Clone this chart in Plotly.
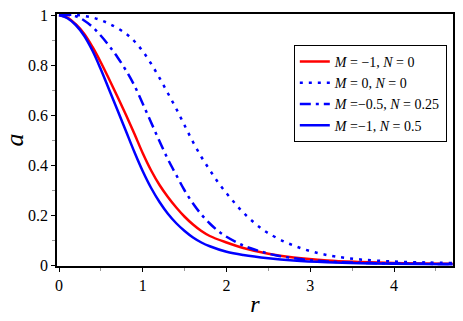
import plotly.graph_objects as go

# M=-1, N=0 (red solid)
r_red = [0, 0.1, 0.2, 0.3, 0.4, 0.5, 0.6, 0.7, 0.8, 0.9, 1.0, 1.1, 1.2, 1.3, 1.4,
         1.5, 1.6, 1.7, 1.8, 2.0, 2.2, 2.5, 2.8, 3.2, 3.6, 4.0, 4.7]
a_red = [1.0, 0.99, 0.963, 0.925, 0.872, 0.81, 0.742, 0.672, 0.6, 0.525, 0.447,
         0.378, 0.32, 0.272, 0.23, 0.193, 0.162, 0.136, 0.116, 0.09, 0.068, 0.045,
         0.03, 0.018, 0.012, 0.008, 0.005]

# M=0, N=0 (blue dotted)
r_dot = [0, 0.2, 0.4, 0.6, 0.8, 0.9, 1.0, 1.1, 1.2, 1.3, 1.4, 1.5, 1.6, 1.7, 1.8,
         1.9, 2.0, 2.1, 2.2, 2.3, 2.4, 2.5, 2.7, 2.9, 3.1, 3.3, 3.6, 4.0, 4.4, 4.7]
a_dot = [1.0, 1.0, 0.99, 0.965, 0.925, 0.895, 0.855, 0.805, 0.748, 0.687, 0.625,
         0.558, 0.492, 0.432, 0.38, 0.33, 0.287, 0.247, 0.21, 0.178, 0.15, 0.127,
         0.092, 0.066, 0.047, 0.034, 0.022, 0.014, 0.01, 0.008]

# M=-0.5, N=0.25 (blue dash-dot)
r_dd = [0, 0.1, 0.2, 0.3, 0.4, 0.5, 0.6, 0.7, 0.8, 0.9, 1.0, 1.1, 1.2, 1.3, 1.4,
        1.5, 1.6, 1.7, 1.8, 1.9, 2.0, 2.2, 2.4, 2.6, 2.9, 3.2, 3.6, 4.0, 4.7]
a_dd = [1.0, 1.0, 0.995, 0.978, 0.952, 0.917, 0.876, 0.83, 0.778, 0.718, 0.645,
        0.57, 0.495, 0.423, 0.36, 0.298, 0.246, 0.202, 0.166, 0.136, 0.113, 0.078,
        0.055, 0.038, 0.023, 0.014, 0.009, 0.006, 0.004]

# M=-1, N=0.5 (blue solid)
r_blue = [0, 0.1, 0.2, 0.3, 0.4, 0.5, 0.6, 0.7, 0.8, 0.9, 1.0, 1.1, 1.2, 1.3, 1.4,
          1.5, 1.6, 1.7, 1.8, 2.0, 2.2, 2.5, 2.8, 3.2, 3.6, 4.0, 4.7]
a_blue = [1.0, 0.987, 0.96, 0.917, 0.857, 0.782, 0.7, 0.618, 0.535, 0.452, 0.375,
          0.308, 0.252, 0.205, 0.167, 0.136, 0.11, 0.09, 0.075, 0.053, 0.04, 0.027,
          0.018, 0.011, 0.007, 0.005, 0.003]

x_ticks = [0, 1, 2, 3, 4]
y_ticks = [0, 0.2, 0.4, 0.6, 0.8, 1]
y_tick_text = ["0", "0.2", "0.4", "0.6", "0.8", "1"]

SERIF = "Liberation Serif"
tick_font = dict(family=SERIF, size=16, color="black")

fig = go.Figure()
series = [
    (r_red, a_red, "<i>M</i> = −1, <i>N</i> = 0", "#ff0000", "solid"),
    (r_dot, a_dot, "<i>M</i> = 0, <i>N</i> = 0", "#0000ff", "3px,6px"),
    (r_dd, a_dd, "<i>M</i> =−0.5, <i>N</i> = 0.25", "#0000ff", "11px,5px,3px,5px"),
    (r_blue, a_blue, "<i>M</i> =−1, <i>N</i> = 0.5", "#0000ff", "solid"),
]
for x, y, name, color, dash in series:
    fig.add_trace(
        go.Scatter(
            x=x,
            y=y,
            name=name,
            mode="lines",
            line=dict(color=color, width=2.5, dash=dash, shape="spline", smoothing=1),
        )
    )

fig.update_layout(
    width=463,
    height=321,
    plot_bgcolor="white",
    paper_bgcolor="white",
    margin=dict(l=57, r=10, t=14, b=55),
    font=dict(family=SERIF, size=16, color="black"),
    legend=dict(
        x=0.598,
        y=0.877,
        xanchor="left",
        yanchor="top",
        bgcolor="white",
        bordercolor="black",
        borderwidth=1,
        font=dict(family=SERIF, size=14, color="black"),
        tracegroupgap=0,
    ),
    showlegend=True,
)
fig.update_xaxes(
    range=[-0.024, 4.704],
    tickvals=x_ticks,
    tickfont=tick_font,
    ticks="outside",
    ticklen=4,
    tickcolor="black",
    showline=True,
    linewidth=1.5,
    linecolor="black",
    mirror=True,
    showgrid=False,
    automargin=False,
    ticklabeloverflow="allow",
    minor=dict(dtick=0.5, ticks="outside", ticklen=3, tickcolor="#999"),
    title=dict(text="<i>r</i>", font=dict(family=SERIF, size=24), standoff=2),
    zeroline=False,
)
fig.update_yaxes(
    range=[-0.004, 1.004],
    tickvals=y_ticks,
    ticktext=y_tick_text,
    tickfont=tick_font,
    ticks="outside",
    ticklen=4,
    tickcolor="black",
    showline=True,
    linewidth=1.5,
    linecolor="black",
    mirror=True,
    showgrid=False,
    automargin=False,
    ticklabeloverflow="allow",
    minor=dict(dtick=0.1, ticks="outside", ticklen=3, tickcolor="#999"),
    title=dict(text="<i>a</i>", font=dict(family=SERIF, size=26), standoff=10),
    zeroline=False,
)

# drop the browser's default 8px body margin so the figure fills the window
fig.write_html(
    "out.html",
    config={"displayModeBar": False},
    post_script="document.body.style.margin = '0px';",
)
